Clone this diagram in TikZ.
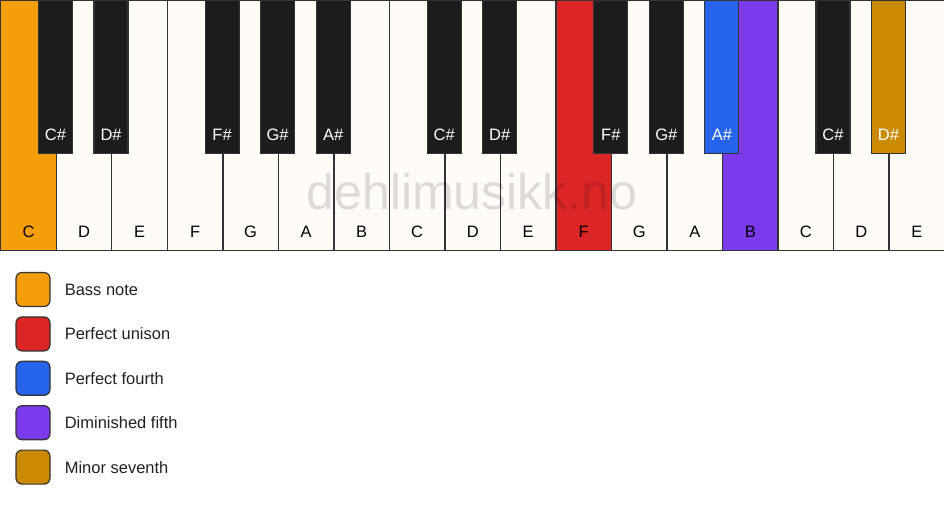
\documentclass[tikz,border=0pt]{standalone}
\usepackage{fontspec}
\setmainfont{Liberation Sans}
\usetikzlibrary{positioning}

\definecolor{ivory}{HTML}{FEFCF7}
\definecolor{keyline}{HTML}{333333}
\definecolor{ebony}{HTML}{1C1C1C}
\definecolor{bassc}{HTML}{F59E0B}
\definecolor{unisonc}{HTML}{DC2626}
\definecolor{fourthc}{HTML}{2563EB}
\definecolor{dimfifthc}{HTML}{7C3AED}
\definecolor{minsevc}{HTML}{CA8A04}
\definecolor{inktext}{HTML}{222222}

\begin{document}
\begin{tikzpicture}[
    x=1pt, y=-1pt,
    keyfont/.style={font=\fontsize{16.5}{20}\selectfont},
    whitekey/.style={rectangle, draw=keyline, line width=1.4pt, fill=ivory,
        minimum width=55.53pt, minimum height=250pt, inner sep=0pt,
        anchor=north west},
    blackkey/.style={rectangle, draw=keyline, line width=1.2pt, fill=ebony,
        minimum width=34pt, minimum height=153pt, inner sep=0pt,
        anchor=north},
    wname/.style={keyfont, text=black, inner sep=0pt, anchor=base, yshift=14.1pt},
    bname/.style={keyfont, text=white, inner sep=0pt, anchor=base, yshift=14.1pt},
    swatch/.style={rectangle, rounded corners=6pt, draw=keyline, line width=1.2pt,
        minimum size=34pt, inner sep=0pt},
    legtext/.style={keyfont, text=inktext, inner sep=0pt, right=14pt of #1}
]
    \useasboundingbox (0,0) rectangle (944,506);
    \fill[white] (0,0) rectangle (944,506);
    % white keys
    \node[whitekey, fill=bassc, label={[wname]south:C}] (c1) at (0,0) {};
    \node[whitekey, label={[wname]south:D}] (d1) at (55.53,0) {};
    \node[whitekey, label={[wname]south:E}] (e1) at (111.06,0) {};
    \node[whitekey, label={[wname]south:F}] (f1) at (166.59,0) {};
    \node[whitekey, label={[wname]south:G}] (g1) at (222.12,0) {};
    \node[whitekey, label={[wname]south:A}] (a1) at (277.65,0) {};
    \node[whitekey, label={[wname]south:B}] (b1) at (333.18,0) {};
    \node[whitekey, label={[wname]south:C}] (c2) at (388.71,0) {};
    \node[whitekey, label={[wname]south:D}] (d2) at (444.24,0) {};
    \node[whitekey, label={[wname]south:E}] (e2) at (499.76,0) {};
    \node[whitekey, fill=unisonc, label={[wname]south:F}] (f2) at (555.29,0) {};
    \node[whitekey, label={[wname]south:G}] (g2) at (610.82,0) {};
    \node[whitekey, label={[wname]south:A}] (a2) at (666.35,0) {};
    \node[whitekey, fill=dimfifthc, label={[wname]south:B}] (b2) at (721.88,0) {};
    \node[whitekey, label={[wname]south:C}] (c3) at (777.41,0) {};
    \node[whitekey, label={[wname]south:D}] (d3) at (832.94,0) {};
    \node[whitekey, label={[wname]south:E}] (e3) at (888.47,0) {};
    % watermark
    \node[font=\fontsize{50}{60}\selectfont, text=black, text opacity=0.13,
        inner sep=0pt] (mark) at (472,192) {dehlimusikk.no};
    % black keys
    \node[blackkey, label={[bname]south:C\#}] (cs1) at (55.53,0) {};
    \node[blackkey, label={[bname]south:D\#}] (ds1) at (111.06,0) {};
    \node[blackkey, label={[bname]south:F\#}] (fs1) at (222.12,0) {};
    \node[blackkey, label={[bname]south:G\#}] (gs1) at (277.65,0) {};
    \node[blackkey, label={[bname]south:A\#}] (as1) at (333.18,0) {};
    \node[blackkey, label={[bname]south:C\#}] (cs2) at (444.24,0) {};
    \node[blackkey, label={[bname]south:D\#}] (ds2) at (499.76,0) {};
    \node[blackkey, label={[bname]south:F\#}] (fs2) at (610.82,0) {};
    \node[blackkey, label={[bname]south:G\#}] (gs2) at (666.35,0) {};
    \node[blackkey, fill=fourthc, label={[bname]south:A\#}] (as2) at (721.88,0) {};
    \node[blackkey, label={[bname]south:C\#}] (cs3) at (832.94,0) {};
    \node[blackkey, fill=minsevc, label={[bname]south:D\#}] (ds3) at (888.47,0) {};
    % legend
    \node[swatch, fill=bassc] (swbass) at (33,289.5) {};
    \node[swatch, fill=unisonc] (swunison) at (33,333.9) {};
    \node[swatch, fill=fourthc] (swfourth) at (33,378.3) {};
    \node[swatch, fill=dimfifthc] (swdimfifth) at (33,422.7) {};
    \node[swatch, fill=minsevc] (swminsev) at (33,467.1) {};
    \node[legtext=swbass] (ltbass) {Bass note};
    \node[legtext=swunison] (ltunison) {Perfect unison};
    \node[legtext=swfourth] (ltfourth) {Perfect fourth};
    \node[legtext=swdimfifth] (ltdimfifth) {Diminished fifth};
    \node[legtext=swminsev] (ltminsev) {Minor seventh};
\end{tikzpicture}
\end{document}
